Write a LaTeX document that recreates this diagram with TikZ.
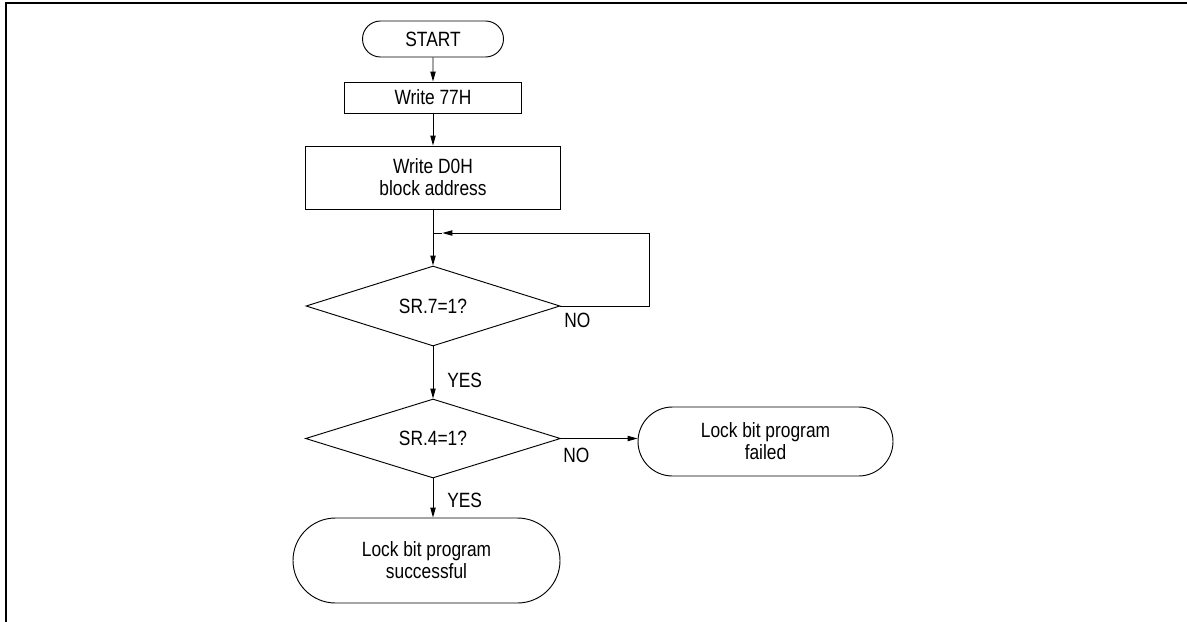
\documentclass[tikz,border=0pt]{standalone}
\usepackage{fontspec}
\setmainfont{Liberation Sans}[FakeStretch=0.84]
\usepackage{tikz}
\usetikzlibrary{arrows.meta,shapes.geometric,shapes.misc,positioning}

\tikzset{
  flow/.style={-{Triangle[length=7.5pt,width=4pt]},line width=0.7pt},
  termbox/.style={rounded rectangle,draw,line width=0.7pt,inner sep=0pt,align=center},
  procbox/.style={rectangle,draw,line width=0.7pt,inner sep=0pt,align=center},
  testbox/.style={diamond,draw,line width=0.7pt,inner sep=0pt,aspect=3},
  answer/.style={anchor=west,inner sep=0pt}
}

\begin{document}
\begin{tikzpicture}[x=0.75pt,y=-0.75pt,
    every node/.style={font=\fontsize{15.5}{16.5}\selectfont}]

    \useasboundingbox (0,0) rectangle (1187,621);

    % ─── Moldura (so topo e lado esquerdo) ────────────────
    \draw[line width=1.7pt] (6,626) -- (6,3) -- (1192,3);

    % ─── Blocos ───────────────────────────────────────────
    \node[termbox,minimum width=105.75pt,minimum height=27pt] (start) at (433,39){START};
    \node[procbox,minimum width=132.75pt,minimum height=23.25pt] (w77) at (433,97.5){Write 77H};
    \node[procbox,minimum width=191.25pt,minimum height=47.25pt] (wd0) at (433,177.5)
      {Write D0H\\block address};
    \node[testbox,minimum width=190.5pt,minimum height=60pt] (sr7) at (433,306){SR.7=1?};
    \node[testbox,minimum width=191.25pt,minimum height=59.25pt] (sr4) at (433,438.5){SR.4=1?};
    \node[termbox,minimum width=191.25pt,minimum height=51.75pt] (fail) at (765.5,441.5)
      {Lock bit program\\failed};
    \node[termbox,minimum width=200.25pt,minimum height=63.75pt] (succ) at (426.5,560.5)
      {Lock bit program\\successful};

    % ─── Respostas ────────────────────────────────────────
    \node[answer] (no7)  at (564,320.5){NO};
    \node[answer] (yes7) at (447,380){YES};
    \node[answer] (no4)  at (563,455.5){NO};
    \node[answer] (yes4) at (447,500.5){YES};

    % ─── Setas ────────────────────────────────────────────
    \draw[flow] (start) -- (w77);
    \draw[flow] (w77) -- (wd0);
    \draw[flow] (wd0) -- (sr7);
    \draw[flow] (sr7) -- (sr4);
    \draw[flow] (sr4.south) -- (sr4.south |- succ.north);
    \draw[flow] (sr4.east) -- (sr4.east -| fail.west);

    % laco de espera (NO volta para cima)
    \coordinate (loopR) at (649,233);
    \coordinate (join)  at (433,233);
    \draw[flow] (sr7.east) -- (loopR |- sr7.east) -- (loopR) -- ([xshift=7pt]join);
    \draw[line width=0.7pt] ([xshift=7pt]join) -- (join);

\end{tikzpicture}
\end{document}
